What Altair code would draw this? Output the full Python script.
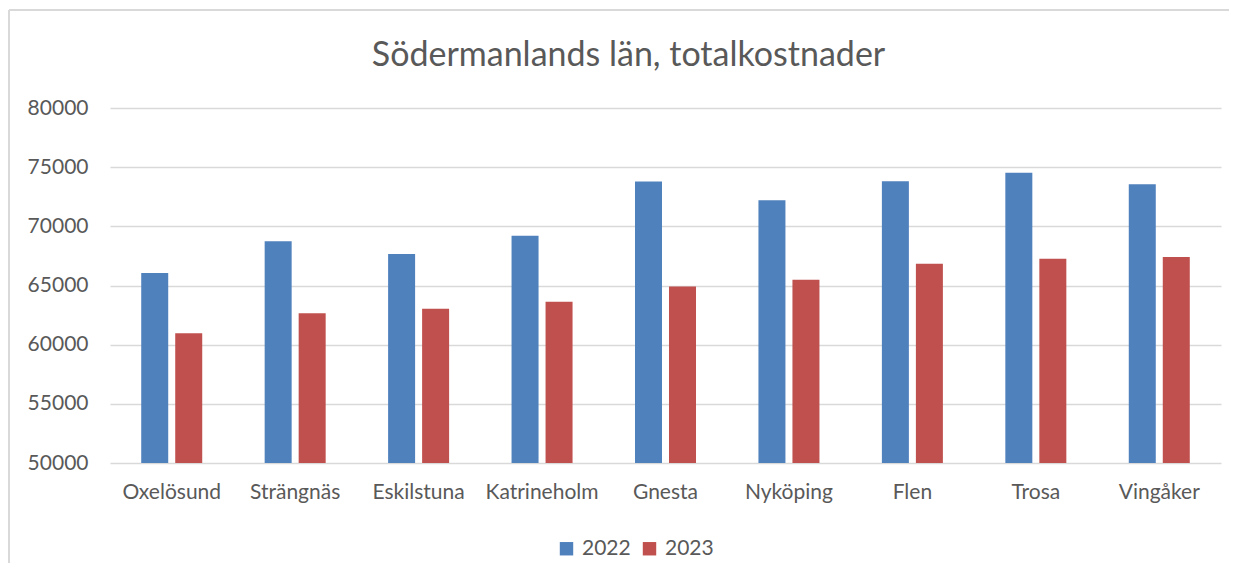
import altair as alt
import pandas as pd

kommuner = ["Oxelösund", "Strängnäs", "Eskilstuna", "Katrineholm", "Gnesta",
            "Nyköping", "Flen", "Trosa", "Vingåker"]
v2022 = [66050, 68730, 67660, 69210, 73780, 72200, 73810, 74520, 73560]
v2023 = [60960, 62660, 63030, 63620, 64920, 65480, 66840, 67260, 67400]
years = ["2022", "2023"]
colors = ["#4F81BD", "#C0504D"]

rows = []
for k, a, b in zip(kommuner, v2022, v2023):
    rows.append({"kommun": k, "år": years[0], "värde": a})
    rows.append({"kommun": k, "år": years[1], "värde": b})
df = pd.DataFrame(rows)

FONT = "Lato"
GREY = "#595959"

bars = alt.Chart(df).mark_bar(clip=True).encode(
    x=alt.X("kommun:N", sort=kommuner, title=None,
            scale=alt.Scale(paddingInner=0, paddingOuter=0),
            axis=alt.Axis(labelAngle=0, ticks=False, domain=False, grid=False,
                          labelFont=FONT, labelFontSize=21, labelColor=GREY,
                          labelPadding=18)),
    xOffset=alt.XOffset("år:N", scale=alt.Scale(paddingInner=0.206, paddingOuter=0.918)),
    y=alt.Y("värde:Q", title=None,
            scale=alt.Scale(domain=[50000, 80000], nice=False, zero=False),
            axis=alt.Axis(values=list(range(50000, 80001, 5000)), format="d",
                          ticks=False, domain=False, gridColor="#d9d9d9",
                          gridWidth=1.5, labelFont=FONT, labelFontSize=21,
                          labelColor=GREY, labelPadding=22)),
    color=alt.Color("år:N", scale=alt.Scale(domain=years, range=colors),
                    legend=alt.Legend(title=None, orient="none", legendX=446,
                                      legendY=430, direction="horizontal",
                                      symbolType="square", symbolSize=180,
                                      symbolStrokeWidth=0,
                                      labelFont=FONT, labelFontSize=21,
                                      labelColor=GREY, columnPadding=8,
                                      labelOffset=5)),
)

frame_df = pd.DataFrame({"a": [0]})
left_line = alt.Chart(frame_df).mark_rule(color="#d9d9d9", strokeWidth=2).encode(
    x=alt.value(-101), y=alt.value(-98), y2=alt.value(470))
top_line = alt.Chart(frame_df).mark_rule(color="#d9d9d9", strokeWidth=2).encode(
    x=alt.value(-101), x2=alt.value(1125), y=alt.value(-98))

chart = alt.layer(left_line, top_line, bars).properties(
    width=1111, height=355,
    autosize=alt.AutoSizeParams(type="none"),
    padding={"left": 102, "top": 100, "right": 8, "bottom": 100},
    title=alt.TitleParams("Södermanlands län, totalkostnader", font=FONT,
                          fontSize=34, fontWeight="normal", color=GREY,
                          anchor="middle", dx=-37, offset=-91,
                          baseline="alphabetic"),
).configure_view(stroke=None)

chart.save("out.html", embed_options={"renderer": "svg", "actions": False})
